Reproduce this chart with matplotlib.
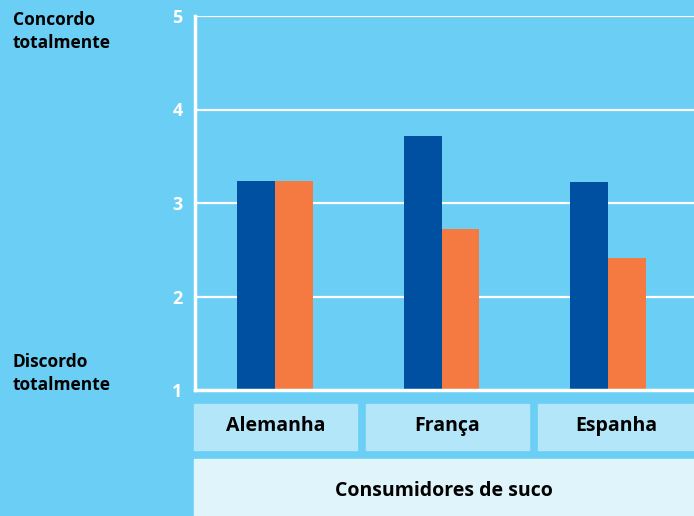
import numpy as np
import matplotlib.pyplot as plt
from matplotlib.patches import Rectangle

paises = ['Alemanha', 'França', 'Espanha']
serie_azul = [3.23, 3.72, 3.22]
serie_laranja = [3.23, 2.72, 2.41]
yticks = [1, 2, 3, 4, 5]
titulo_x = 'Consumidores de suco'
rotulo_topo = 'Concordo\ntotalmente'
rotulo_base = 'Discordo\ntotalmente'

BG = '#6acef5'
AZUL = '#0050a2'
LARANJA = '#f47a42'
CAIXA = '#b3e6f8'
CAIXA2 = '#e0f4fb'

plt.rcParams['font.family'] = ['Open Sans', 'DejaVu Sans']
plt.rcParams['font.weight'] = 'bold'

W, H = 694, 516
fig = plt.figure(figsize=(W / 100, H / 100), dpi=100, facecolor=BG)

# overlay in pixel coords for boxes and side labels
ov = fig.add_axes([0, 0, 1, 1])
ov.set_xlim(0, W)
ov.set_ylim(H, 0)
ov.axis('off')

# main chart: left 195, right 694, top 16, bottom 390 (pixels)
ax = fig.add_axes([195 / W, (H - 390) / H, (W - 195) / W, (390 - 16) / H])
ax.set_facecolor(BG)
x = np.arange(len(paises))
w = 0.228
ax.bar(x - w / 2, np.array(serie_azul) - 1, width=w, bottom=1, color=AZUL, zorder=3)
ax.bar(x + w / 2, np.array(serie_laranja) - 1, width=w, bottom=1, color=LARANJA, zorder=3)
ax.set_xlim(-0.48, 2.516)
ax.set_ylim(1, 5)
ax.set_yticks(yticks)
for v in yticks[1:]:
    ax.axhline(v, color='white', lw=1.6, zorder=1)
for s in ['top', 'right']:
    ax.spines[s].set_visible(False)
for s in ['left', 'bottom']:
    ax.spines[s].set_color('white')
    ax.spines[s].set_linewidth(2.5)
    ax.spines[s].set_zorder(4)
ax.set_xticks([])
ax.tick_params(axis='y', length=0, pad=9, labelcolor='white', labelsize=13)
for t in ax.get_yticklabels():
    t.set_fontweight('bold')
ax.set_clip_on(False)

# category boxes
caixas = [(194, 357), (366, 529), (538, 694)]
for (x0, x1), nome in zip(caixas, paises):
    ov.add_patch(Rectangle((x0, 404), x1 - x0, 46, color=CAIXA, zorder=1))
    ov.text((x0 + x1) / 2, 426, nome, ha='center', va='center', fontsize=14,
            fontweight='bold', color='black')
ov.add_patch(Rectangle((194, 459), W - 194, 60, color=CAIXA2, zorder=1))
ov.text((194 + W) / 2, 491, titulo_x, ha='center', va='center', fontsize=14,
        fontweight='bold', color='black')

ov.text(13, 11, rotulo_topo, ha='left', va='top', fontsize=12.5, fontweight='bold',
        color='black', linespacing=1.35)
ov.text(13, 353, rotulo_base, ha='left', va='top', fontsize=12.5, fontweight='bold',
        color='black', linespacing=1.35)

fig.savefig('out.png', dpi=100, facecolor=BG)
